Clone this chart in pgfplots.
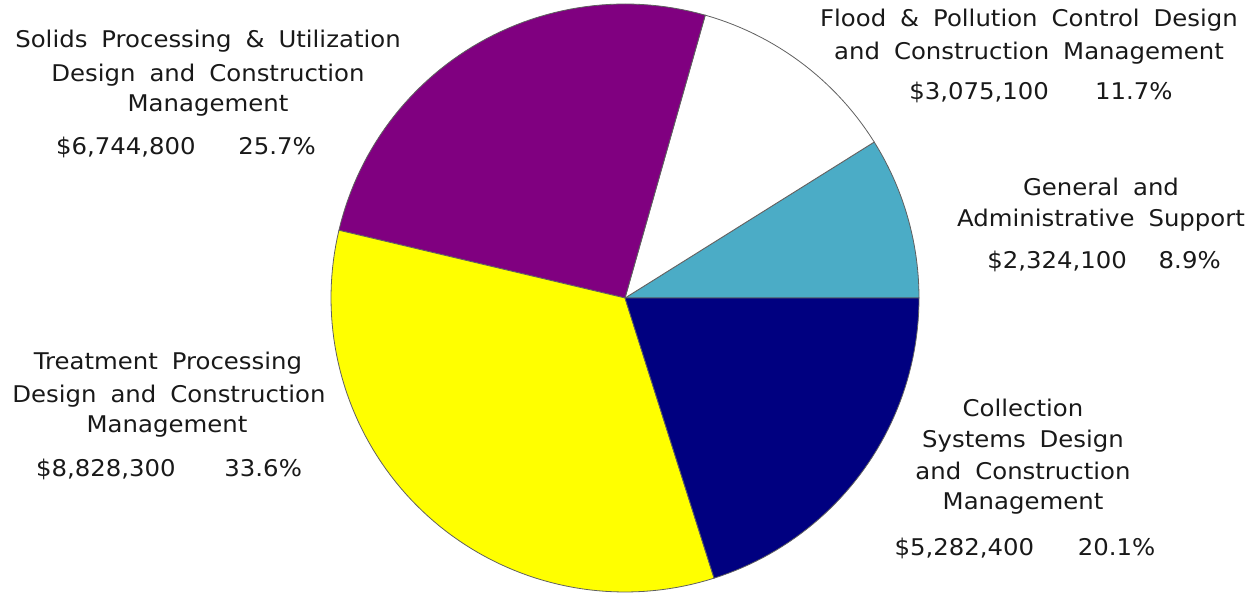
\documentclass[border=0pt]{standalone}
\usepackage{pgfplots}
\pgfplotsset{compat=1.18}
\usepackage{fontspec}
\setmainfont{DejaVu Sans}[FakeStretch=1.06, WordSpace=1.8]
\definecolor{cGen}{HTML}{4BACC6}
\definecolor{cFlood}{HTML}{FFFFFF}
\definecolor{cSolids}{HTML}{800080}
\definecolor{cTreat}{HTML}{FFFF00}
\definecolor{cColl}{HTML}{000080}
\definecolor{cEdge}{HTML}{606060}
% shares (percent) -> angles = percent*3.6, counter-clockwise from east
% General 8.9, Flood 11.7, Solids 25.7, Treatment 33.6, Collection 20.1
\newcommand{\lbl}[3]{\node[anchor=base,inner sep=0pt,text=black!90,font=\fontsize{11.5bp}{15.5bp}\selectfont] at (axis cs:#1,#2) {#3};}
\begin{document}
\begin{tikzpicture}
\begin{axis}[hide axis, scale only axis, width=630bp, height=298.5bp,
  xmin=0, xmax=1260, ymin=0, ymax=597, clip=false]
\addplot[fill=cGen, draw=cEdge, line width=0.4pt, domain=0:32.04, samples=30]
  ({625+294*cos(x)},{299+294*sin(x)}) -- (axis cs:625,299) -- cycle;
\addplot[fill=cFlood, draw=cEdge, line width=0.4pt, domain=32.04:74.16, samples=30]
  ({625+294*cos(x)},{299+294*sin(x)}) -- (axis cs:625,299) -- cycle;
\addplot[fill=cSolids, draw=cEdge, line width=0.4pt, domain=74.16:166.68, samples=60]
  ({625+294*cos(x)},{299+294*sin(x)}) -- (axis cs:625,299) -- cycle;
\addplot[fill=cTreat, draw=cEdge, line width=0.4pt, domain=166.68:287.64, samples=80]
  ({625+294*cos(x)},{299+294*sin(x)}) -- (axis cs:625,299) -- cycle;
\addplot[fill=cColl, draw=cEdge, line width=0.4pt, domain=287.64:360, samples=50]
  ({625+294*cos(x)},{299+294*sin(x)}) -- (axis cs:625,299) -- cycle;
% labels (y = 597 - pixel baseline)
\lbl{208}{549}{Solids Processing \& Utilization}
\lbl{208}{515}{Design and Construction}
\lbl{208}{485}{Management}
\lbl{186}{442}{\$6,744,800\hspace{1.26em} 25.7\%}
\lbl{1029}{570}{Flood \& Pollution Control Design}
\lbl{1029}{537}{and Construction Management}
\lbl{1041}{497}{\$3,075,100\hspace{1.4em} 11.7\%}
\lbl{1101}{401}{General and}
\lbl{1101}{370}{Administrative Support}
\lbl{1104}{328}{\$2,324,100\hspace{0.78em} 8.9\%}
\lbl{1023}{180}{Collection}
\lbl{1023}{149}{Systems Design}
\lbl{1023}{117}{and Construction}
\lbl{1023}{87}{Management}
\lbl{1025}{42}{\$5,282,400\hspace{1.3em} 20.1\%}
\lbl{168}{227}{Treatment Processing}
\lbl{169}{194}{Design and Construction}
\lbl{167}{164}{Management}
\lbl{169}{120}{\$8,828,300\hspace{1.52em} 33.6\%}
\end{axis}
\pgfresetboundingbox
\path[use as bounding box] (current axis.south west) rectangle (current axis.north east);
\end{tikzpicture}
\end{document}
